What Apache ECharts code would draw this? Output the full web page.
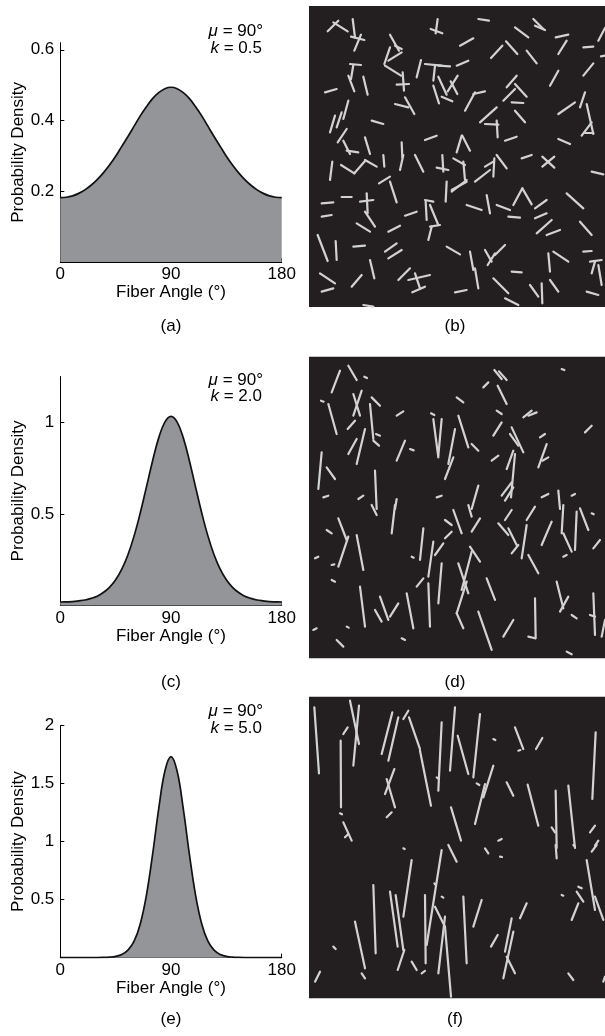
<!DOCTYPE html>
<html><head><meta charset="utf-8">
<script src="https://cdn.jsdelivr.net/npm/echarts@6/dist/echarts.min.js"></script>
<style>html,body{margin:0;padding:0;background:#fff}#c{width:605px;height:1036px}</style>
</head><body><div id="c"></div>
<script>
// ---------- data ----------
const angles = [0,5,10,15,20,25,30,35,40,45,50,55,60,65,70,75,80,85,90,95,100,105,110,115,120,125,130,135,140,145,150,155,160,165,170,175,180];
const densityA = [0.182,0.183,0.187,0.194,0.204,0.217,0.233,0.252,0.274,0.299,0.327,0.355,0.384,0.413,0.439,0.462,0.479,0.490,0.494,0.490,0.479,0.462,0.439,0.413,0.384,0.355,0.327,0.299,0.274,0.252,0.233,0.217,0.204,0.194,0.187,0.183,0.182];
const densityC = [0.019,0.020,0.021,0.025,0.030,0.039,0.051,0.071,0.099,0.140,0.198,0.277,0.380,0.505,0.646,0.789,0.915,1.001,1.032,1.001,0.915,0.789,0.646,0.505,0.380,0.277,0.198,0.140,0.099,0.071,0.051,0.039,0.030,0.025,0.021,0.020,0.019];
const densityE = [0,0,0,0,0,0.001,0.001,0.002,0.005,0.012,0.028,0.065,0.142,0.291,0.538,0.888,1.283,1.607,1.734,1.607,1.283,0.888,0.538,0.291,0.142,0.065,0.028,0.012,0.005,0.002,0.001,0.001,0,0,0,0,0];
const xTicks = [0,90,180];
const yTicksA = [0.2,0.4,0.6];
const yTicksC = [0.5,1];
const yTicksE = [0.5,1,1.5,2];
const muLabel = '{i|\u03bc} = 90\u00b0';
const kLabels = ['{i|k} = 0.5','{i|k} = 2.0','{i|k} = 5.0'];
const captions = ['(a)','(b)','(c)','(d)','(e)','(f)'];
const xName = 'Fiber Angle (\u00b0)';
const yName = 'Probability Density';

// fiber segments [x1,y1,x2,y2]; "Top" arrays measured on upper half, "Bottom" arrays on lower half (shifted by halfOffset)
const halfOffset = 453;
const fibersBTop = [
[68,82,100,50],[85,55,128,82],[143,45,150,100],[148,140,168,92],[138,98,178,108],
[255,92,282,140],[238,180,255,130],[250,170,290,145],[270,125,290,135],[240,185,288,215],
[293,205,297,260],[275,242,312,240],[398,45,392,88],[377,75,412,88],
[520,45,552,50],[465,125,505,103],[558,162,592,125],[603,112,637,150],[630,70,670,100],
[685,45,715,75],[690,65,720,78],[665,140,695,178],[752,100,790,92],[760,150,785,110],
[835,130,865,128],[880,110,900,72],[888,157,900,155],
[135,180,168,183],[145,183,138,225],[130,215,148,262],[175,218,188,272],[60,265,95,255],
[335,220,348,168],[360,180,410,185],[390,185,385,230],[400,185,435,187],[455,185,490,170],
[400,218,425,272],[428,262,458,215],[385,245,402,298],[410,278,442,292],[437,232,457,270],
[480,320,510,265],[505,270,540,262],[270,300,310,310],[300,280,328,330],
[605,250,635,215],[595,290,630,255],[630,240,665,278],[620,295,655,297],[630,320,660,355],
[735,245,760,200],[835,215,865,178],
[760,330,810,295],[825,310,840,265],[845,300,865,390],[840,385,865,385],[830,395,860,355],
[75,385,90,335],[95,370,110,325],[115,345,130,290],[98,415,125,375],
[200,350,235,360],[525,355,575,310],[540,360,580,362],[575,350,578,400],
[600,410,635,398],[360,408,395,395],[760,405,795,420],
[115,410,135,450],[180,400,195,450],[125,440,160,445],[290,415,292,460],[455,445,470,395],[472,395,495,440]
];
const fibersBBottom = [
[75,75,82,20],[108,30,148,55],[148,55,180,18],[180,15,215,35],[235,0,238,35],
[285,45,295,0],[330,0,355,50],[412,0,415,50],[395,38,430,45],
[445,10,480,30],[475,20,480,75],[440,110,485,75],
[510,80,555,45],[568,10,565,65],[540,35,565,20],[575,0,605,40],
[650,10,680,0],[712,35,748,5],[712,5,748,38],[860,50,895,58],
[222,85,255,65],[255,80,275,142],[425,80,422,140],[440,105,485,80],
[50,145,85,142],[110,125,140,125],[165,140,205,135],[185,115,188,175],[180,170,210,215],[155,205,195,230],
[250,230,285,212],[240,290,275,265],[250,310,290,285],[300,182,335,170],
[360,135,385,140],[362,140,365,195],[375,150,400,210],[370,255,380,215],[375,215,405,210],
[485,150,530,165],[545,120,555,175],[575,150,615,165],[625,150,652,100],[652,100,680,148],[610,185,645,188],
[690,160,725,135],[690,190,725,175],[695,235,740,195],[725,240,765,225],
[785,115,835,160],[825,200,860,240],[50,185,80,180],
[38,240,68,318],[92,258,95,315],[145,275,180,272],[195,315,208,370],
[45,355,90,385],[50,410,85,400],[140,395,170,360],
[280,375,315,340],[330,355,345,400],[310,375,375,360],[322,412,360,395],
[425,275,465,298],[495,290,505,345],[510,340,520,400],
[540,285,560,320],[548,330,570,295],[570,300,600,270],[620,350,650,352],
[565,370,610,415],[600,430,640,450],[675,390,700,425],[710,385,712,445],
[730,295,735,350],[745,290,790,320],[735,375,760,410],
[835,290,860,288],[855,320,890,315],[860,355,870,320],[880,330,890,390],
[845,410,880,420],[450,412,485,405],[175,450,205,455]
];
const fibersDTop = [
[80,115,105,50],[130,35,155,78],[178,68,186,72],[48,140,56,143],[70,150,95,240],
[145,120,165,185],[145,185,170,110],[128,225,150,200],[195,150,205,255],[200,130,225,155],
[130,300,155,255],[155,330,180,225],[213,240,225,245],[205,260,222,275],[275,185,295,172],
[378,178,388,183],[275,320,300,260],[315,285,326,289],[385,195,400,310],[400,305,410,195],
[430,330,450,225],[460,185,490,280],[455,130,475,145],[500,270,520,290],[420,375,445,310],
[535,100,550,85],[568,48,590,75],[582,52,605,78],[578,95,605,150],[575,170,590,180],
[565,245,590,205],[620,220,655,295],[615,240,640,275],[655,190,680,170],[670,185,695,175],
[605,345,625,290],[618,430,630,300],[560,320,580,305],[705,250,720,240],[700,340,725,270],
[712,320,730,310],[590,425,620,385],[600,440,625,400],[710,430,730,420],[770,45,778,48],
[840,235,860,215],[40,405,50,295],[65,340,90,375],[55,430,70,425],[160,435,175,425],
[210,350,215,465],[395,430,410,425],[270,465,275,435],[500,465,520,395],[760,410,765,465],[800,425,810,420]
];
const fibersDBottom = [
[200,0,215,30],[260,85,270,0],[65,75,80,85],[100,40,125,105],[100,185,130,95],
[155,90,175,195],[30,160,40,155],[80,180,88,178],[80,225,90,230],[165,245,180,365],
[210,315,230,350],[225,275,250,345],[255,335,280,295],[305,265,325,370],[335,245,355,220],
[345,165,355,70],[370,215,385,110],[370,235,375,365],[390,150,415,115],[400,295,410,175],
[420,100,440,80],[420,45,440,60],[445,15,470,85],[490,0,500,35],[500,80,525,40],
[460,175,490,265],[470,255,500,140],[495,125,525,170],[455,325,485,230],[455,325,475,370],
[520,320,560,435],[545,220,570,285],[580,55,610,90],[600,45,620,15],[620,145,640,120],
[650,160,665,60],[610,70,635,120],[665,45,690,5],[670,150,700,205],[710,120,740,50],
[770,85,775,0],[775,85,800,140],[810,135,815,20],[825,10,850,75],[860,25,866,28],
[865,130,885,105],[775,155,785,150],[755,230,775,310],[765,320,790,275],[800,330,815,340],
[855,330,870,335],[865,265,870,390],[890,395,900,345],[690,280,692,400],[670,395,690,400],
[595,395,625,345],[290,400,300,405],[95,405,115,425],[25,375,35,370],[125,365,131,368],
[320,155,326,158],[785,440,800,448]
];
const fibersFTop = [
[28,40,42,238],[135,20,162,150],[145,215,162,35],[115,120,128,100],[107,140,108,340],
[230,180,262,55],[250,200,280,70],[295,75,310,50],[312,70,345,165],[345,170,378,335],
[240,300,268,225],[245,255,270,340],[400,290,410,85],[395,250,401,255],[435,230,450,40],
[458,125,490,240],[505,250,525,60],[565,135,571,138],[510,390,540,270],[535,310,565,215],
[515,268,523,273],[630,100,655,165],[640,170,646,168],[693,165,712,132],[605,265,625,305],
[668,272,700,395],[752,290,755,462],[790,275,810,462],[740,400,750,415],[862,315,872,115],
[855,415,870,395],[870,455,880,440],[438,340,468,440],[115,385,140,440],[120,430,130,420],
[105,358,111,361],[245,370,260,355],[580,440,590,435]
];
const fibersFBottom = [
[295,10,299,12],[320,45,295,215],[410,15,365,300],[430,0,455,50],[540,10,550,25],
[585,35,591,36],[752,0,755,40],[805,0,810,5],[860,20,875,0],[845,45,870,195],
[820,125,830,130],[815,140,835,170],[800,225,820,175],[870,155,895,225],[205,120,212,325],
[255,140,278,305],[272,150,295,315],[278,375,298,315],[150,230,180,370],[85,305,92,312],
[30,410,45,380],[170,385,180,400],[320,350,335,375],[350,385,360,378],[360,150,362,355],
[390,185,420,245],[400,385,420,215],[420,245,438,455],[388,115,392,120],[410,155,415,158],
[475,155,485,355],[505,245,530,165],[558,305,578,270],[595,400,625,260],[600,320,620,220],
[605,335,630,385],[645,220,665,175],[770,150,775,152],[790,385,805,405],[895,410,900,395]
];

// ---------- chart ----------
const FONT = 'Liberation Sans, Arial, Helvetica, sans-serif';
const FS = 17;
const chart = echarts.init(document.getElementById('c'), null, {renderer:'canvas'});

const leftGrids = [
  {left:60.3, top:42.7, width:221.4, height:219.3},
  {left:60.3, top:376.5, width:221.4, height:229},
  {left:60.3, top:725.7, width:221.4, height:232}
];
const rightGrids = [
  {left:309, top:6, width:296, height:301},
  {left:309, top:356.7, width:296, height:301.6},
  {left:309, top:696.7, width:296, height:301.6}
];
const rightYRange = [[6,909],[8,913],[8,913]];
const yMaxes = [0.62, 1.25, 2];
const yTickSets = [yTicksA, yTicksC, yTicksE];
const densities = [densityA, densityC, densityE];
const xNameGaps = [22, 19.5, 22];

const grid = [];
const xAxis = [];
const yAxis = [];
const series = [];

const axisCommon = {
  axisLine:{show:true, onZero:false, lineStyle:{color:'#000', width:1}},
  splitLine:{show:false},
  nameTextStyle:{color:'#000', fontSize:FS, fontFamily:FONT}
};

leftGrids.forEach((g,i)=>{
  grid.push(Object.assign({containLabel:false}, g));
  xAxis.push(Object.assign({}, axisCommon, {
    gridIndex:i, type:'value', min:0, max:180,
    axisTick:{show:true, inside:true, length:4, customValues:xTicks, lineStyle:{color:'#000'}},
    axisLabel:{customValues:xTicks, margin:4, fontSize:FS, color:'#000', fontFamily:FONT},
    name:xName, nameLocation:'middle', nameGap:xNameGaps[i]
  }));
  yAxis.push(Object.assign({}, axisCommon, {
    gridIndex:i, type:'value', min:0, max:yMaxes[i],
    axisTick:{show:true, inside:true, length:4, customValues:yTickSets[i], lineStyle:{color:'#000'}},
    axisLabel:{customValues:yTickSets[i], margin:6, fontSize:FS, color:'#000', fontFamily:FONT},
    name:yName, nameLocation:'middle', nameGap:33
  }));
  series.push({
    type:'line', xAxisIndex:i, yAxisIndex:i,
    data: angles.map((a,j)=>[a, densities[i][j]]),
    smooth:0.4, showSymbol:false, symbol:'none', silent:true, animation:false,
    lineStyle:{color:'#111', width:1.7},
    areaStyle:{color:'#939598', opacity:1}
  });
});

const fiberSets = [[fibersBTop,fibersBBottom],[fibersDTop,fibersDBottom],[fibersFTop,fibersFBottom]];
rightGrids.forEach((g,k)=>{
  const idx = 3+k;
  grid.push(Object.assign({show:true, backgroundColor:'#231f20', borderWidth:0}, g));
  xAxis.push({gridIndex:idx, type:'value', min:12, max:900, show:false});
  yAxis.push({gridIndex:idx, type:'value', min:rightYRange[k][0], max:rightYRange[k][1], inverse:true, show:false});
  const segs = fiberSets[k][0].map(s=>({coords:[[s[0],s[1]],[s[2],s[3]]]}))
    .concat(fiberSets[k][1].map(s=>({coords:[[s[0],s[1]+halfOffset],[s[2],s[3]+halfOffset]]})));
  series.push({
    type:'lines', coordinateSystem:'cartesian2d', xAxisIndex:idx, yAxisIndex:idx,
    data:segs, clip:true, silent:true, animation:false,
    lineStyle:{color:'#d2d2d2', width:2.2, opacity:1, cap:'round'}
  });
});

const annY = [[31.7,48.3],[380,396.7],[711.5,728.5]];
const graphic = [];
annY.forEach((yy,i)=>{
  const rich = {i:{fontStyle:'italic', fontSize:FS, fontFamily:FONT, fill:'#000'}};
  graphic.push({type:'text', silent:true, style:{text:muLabel, x:263, y:yy[0], align:'right', verticalAlign:'middle', fontSize:FS, fontFamily:FONT, fill:'#000', rich}});
  graphic.push({type:'text', silent:true, style:{text:kLabels[i], x:262, y:yy[1], align:'right', verticalAlign:'middle', fontSize:FS, fontFamily:FONT, fill:'#000', rich}});
});
const capPos = [[171,326],[455,326],[171,682],[455,682],[171,1019],[455,1019]];
captions.forEach((c,i)=>{
  graphic.push({type:'text', silent:true, style:{text:c, x:capPos[i][0], y:capPos[i][1], align:'center', verticalAlign:'middle', fontSize:FS, fontFamily:FONT, fill:'#000'}});
});

chart.setOption({animation:false, backgroundColor:'#fff', grid, xAxis, yAxis, series, graphic});
</script>
</body></html>
